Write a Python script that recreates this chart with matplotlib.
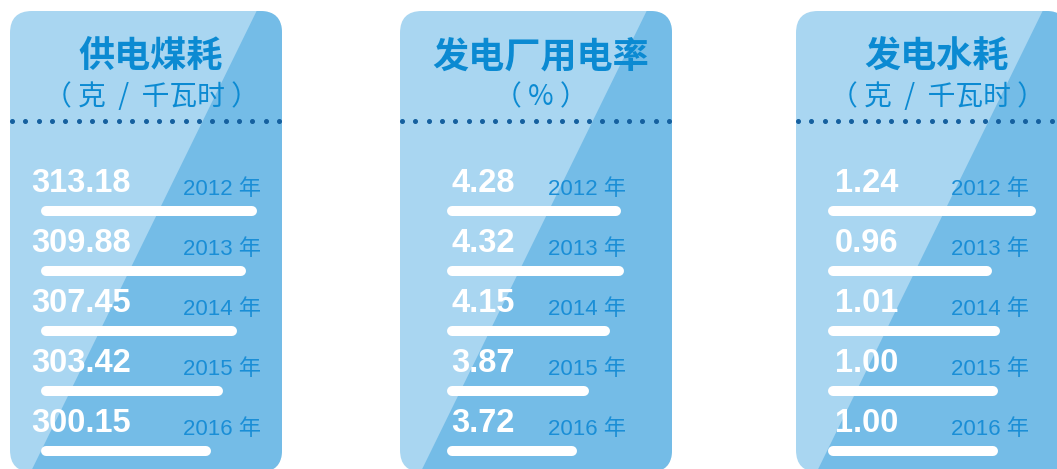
import numpy as np
import matplotlib
matplotlib.use('Agg')
import matplotlib.pyplot as plt
from matplotlib.patches import FancyBboxPatch, Polygon

plt.rcParams['font.family'] = ['Noto Sans CJK SC', 'DejaVu Sans']

# data
years = ['2012', '2013', '2014', '2015', '2016']
coal = [313.18, 309.88, 307.45, 303.42, 300.15]        # 供电煤耗
plant_use = [4.28, 4.32, 4.15, 3.87, 3.72]             # 发电厂用电率
water = [1.24, 0.96, 1.01, 1.00, 1.00]                 # 发电水耗

titles = ['供电煤耗', '发电厂用电率', '发电水耗']
units = ['（ 克  /  千瓦时 ）', '（ % ）', '（ 克  /  千瓦时 ）']
series = [coal, plant_use, water]

# layout (pixels)
W, H = 1057, 469
panel_left = [10, 400, 796]
value_x = [31, 451, 835]
bar_x = [41, 447, 828]
year_x = [183, 548, 951]
bar_lim = [(255.2, 255.2 + 220 / 3.56), (2.19, 2.19 + 220 / 78.3), (0.0, 220 / 160)]

light = '#A9D6F1'
dark = '#74BCE7'
title_c = '#0B8AD2'
year_c = '#1A8ED6'
dot_c = '#15609F'

fig = plt.figure(figsize=(W / 100, H / 100), dpi=100)
ax = fig.add_axes([0, 0, 1, 1])
ax.set_xlim(0, W)
ax.set_ylim(H, 0)
ax.axis('off')

for k in range(3):
    L = panel_left[k]
    cx = L + 141
    box = FancyBboxPatch((L, 11), 272, 461, boxstyle='round,pad=0,rounding_size=22',
                         fc=light, ec='none')
    ax.add_patch(box)
    diag = Polygon([(L + 252, 0), (L + 300, 0), (L + 300, 500), (L + 7, 500)],
                   closed=True, fc=dark, ec='none')
    ax.add_patch(diag)
    diag.set_clip_path(box)

    ax.text(cx, 57, titles[k], fontsize=26, weight='heavy', color=title_c,
            ha='center', va='center')
    ax.text(cx, 97, units[k], fontsize=20, weight='light', color=title_c,
            ha='center', va='center')
    dx = np.linspace(L + 2, L + 269, 21)
    ax.plot(dx, [121] * len(dx), ls='none', marker='o', ms=2.6, color=dot_c)

    vals = series[k]
    for i, v in enumerate(vals):
        ax.text(value_x[k], 192 + 60 * i, f'{v:.2f}', family='Liberation Sans',
                weight='bold', fontsize=23.5, color='white', ha='left', va='baseline')
        ax.text(year_x[k], 195 + 60 * i, years[i] + ' 年', fontsize=16,
                family=['Liberation Sans', 'Noto Sans CJK SC'],
                color=year_c, ha='left', va='baseline')

    # bars, rows 60 px apart
    bax = fig.add_axes([(bar_x[k] + 5) / W, 0, 220 / W, 288 / H])
    bax.set_xlim(*bar_lim[k])
    bax.set_ylim(4.3, -0.5)
    bax.axis('off')
    bax.hlines(range(len(vals)), bar_lim[k][0], vals, colors='white',
               linewidth=7.2, capstyle='round', clip_on=False)

fig.savefig('out.png', dpi=100)
